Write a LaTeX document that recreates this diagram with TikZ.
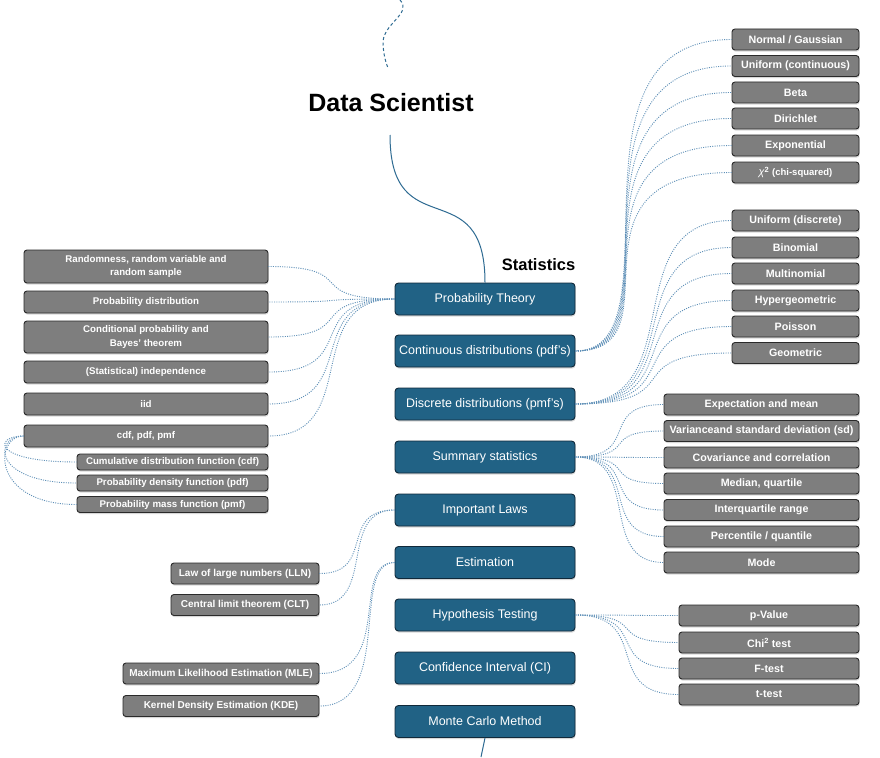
\documentclass[tikz,border=0pt]{standalone}
\usepackage{fontspec}
\setmainfont{Liberation Sans}
\usetikzlibrary{shadows}
\definecolor{bluef}{HTML}{216285}
\definecolor{bluebd}{HTML}{10293A}
\definecolor{grayf}{HTML}{7E7E7E}
\definecolor{graybd}{HTML}{2A2A2A}
\definecolor{connc}{HTML}{5F90B8}
\definecolor{linec}{HTML}{2E6B92}
\newcommand\lk[4]{\draw[conn] (#1) .. controls +(#3,0) and +(#4,0) .. (#2);}
\begin{document}
\begin{tikzpicture}[x=1pt,y=-1pt,
  shd/.style={drop shadow={shadow xshift=0.6pt,shadow yshift=-1.6pt,opacity=0.3}},
  bbox/.style={draw=bluebd,fill=bluef,rounded corners=3.5pt,line width=0.9pt,minimum width=180pt,minimum height=32pt,inner sep=0pt,text=white,font=\fontsize{12.5}{15}\selectfont,shd},
  gbox/.style={draw=graybd,fill=grayf,rounded corners=3pt,line width=0.9pt,inner sep=0pt,text=white,align=center,shd},
  lbox/.style={gbox,minimum width=244pt,font=\fontsize{9.7}{13.5}\selectfont\bfseries},
  sbox/.style={gbox,minimum width=191pt,minimum height=16pt,font=\fontsize{9.7}{12}\selectfont\bfseries},
  rbox/.style={gbox,minimum height=21pt,font=\fontsize{10.7}{12}\selectfont\bfseries},
  conn/.style={draw=connc,line width=0.9pt,dash pattern=on 1pt off 1.3pt},
  mainline/.style={draw=linec,line width=1pt}]
\fill[white] (0,0) rectangle (880,757);
\useasboundingbox (0,0) rectangle (880,757);

% titles
\node[font=\fontsize{25}{30}\selectfont\bfseries] (title) at (391,103) {Data Scientist};
\node[font=\fontsize{16.5}{20}\selectfont\bfseries] (stat) at (538.5,265) {Statistics};

% blue main nodes
\node[bbox] (pt)   at (485,299)   {Probability Theory};
\node[bbox] (cont) at (485,351)   {Continuous distributions (pdf's)};
\node[bbox] (disc) at (485,404)   {Discrete distributions (pmf's)};
\node[bbox] (summ) at (485,457)   {Summary statistics};
\node[bbox] (laws) at (485,510)   {Important Laws};
\node[bbox] (est)  at (485,562.5) {Estimation};
\node[bbox] (hyp)  at (485,615)   {Hypothesis Testing};
\node[bbox] (ci)   at (485,668)   {Confidence Interval (CI)};
\node[bbox] (mc)   at (485,721.5) {Monte Carlo Method};

% left: probability theory
\node[lbox,minimum height=33pt] (l1) at (146,266.5) {Randomness, random variable and\\random sample};
\node[lbox,minimum height=22pt] (l2) at (146,302) {Probability distribution};
\node[lbox,minimum height=32pt] (l3) at (146,337) {Conditional probability and\\Bayes' theorem};
\node[lbox,minimum height=22pt] (l4) at (146,372) {(Statistical) independence};
\node[lbox,minimum height=22pt] (l5) at (146,404) {iid};
\node[lbox,minimum height=22pt] (l6) at (146,436) {cdf, pdf, pmf};
\node[sbox] (s1) at (172.5,462)   {Cumulative distribution function (cdf)};
\node[sbox] (s2) at (172.5,483)   {Probability density function (pdf)};
\node[sbox] (s3) at (172.5,504.5) {Probability mass function (pmf)};

% right: continuous
\node[rbox,minimum width=127pt] (c1) at (795.5,39.5)  {Normal / Gaussian};
\node[rbox,minimum width=127pt] (c2) at (795.5,66)    {Uniform (continuous)};
\node[rbox,minimum width=127pt] (c3) at (795.5,92.5)  {Beta};
\node[rbox,minimum width=127pt] (c4) at (795.5,118.5) {Dirichlet};
\node[rbox,minimum width=127pt] (c5) at (795.5,145.5) {Exponential};
\node[rbox,minimum width=127pt] (c6) at (795.5,172.5) {{\mdseries\itshape χ}\textsuperscript{2} {\fontsize{9.5}{12}\selectfont(chi-squared)}};

% right: discrete
\node[rbox,minimum width=127pt] (d1) at (795.5,220.5) {Uniform (discrete)};
\node[rbox,minimum width=127pt] (d2) at (795.5,247.5) {Binomial};
\node[rbox,minimum width=127pt] (d3) at (795.5,273.5) {Multinomial};
\node[rbox,minimum width=127pt] (d4) at (795.5,300.5) {Hypergeometric};
\node[rbox,minimum width=127pt] (d5) at (795.5,326.5) {Poisson};
\node[rbox,minimum width=127pt] (d6) at (795.5,353)   {Geometric};

% right: summary statistics
\node[rbox,minimum width=195pt] (m1) at (761.5,404.5) {Expectation and mean};
\node[rbox,minimum width=195pt] (m2) at (761.5,431)   {Varianceand standard deviation (sd)};
\node[rbox,minimum width=195pt] (m3) at (761.5,457.5) {Covariance and correlation};
\node[rbox,minimum width=195pt] (m4) at (761.5,483.5) {Median, quartile};
\node[rbox,minimum width=195pt] (m5) at (761.5,510)   {Interquartile range};
\node[rbox,minimum width=195pt] (m6) at (761.5,536.5) {Percentile / quantile};
\node[rbox,minimum width=195pt] (m7) at (761.5,562.5) {Mode};

% right: hypothesis testing
\node[rbox,minimum width=180pt] (h1) at (769,615.5) {p-Value};
\node[rbox,minimum width=180pt] (h2) at (769,642.5) {Chi\textsuperscript{2} test};
\node[rbox,minimum width=180pt] (h3) at (769,668.5) {F-test};
\node[rbox,minimum width=180pt] (h4) at (769,694.5) {t-test};

% left: laws and estimation
\node[rbox,minimum width=148pt,font=\fontsize{10}{12}\selectfont\bfseries] (w1) at (245,573.5) {Law of large numbers (LLN)};
\node[rbox,minimum width=148pt,font=\fontsize{10}{12}\selectfont\bfseries] (w2) at (245,605)   {Central limit theorem (CLT)};
\node[rbox,minimum width=196pt,font=\fontsize{10}{12}\selectfont\bfseries] (e1) at (221,673.5) {Maximum Likelihood Estimation (MLE)};
\node[rbox,minimum width=196pt,font=\fontsize{10}{12}\selectfont\bfseries] (e2) at (221,706)   {Kernel Density Estimation (KDE)};

% main lines
\coordinate (topend) at (400,0);
\coordinate (tail) at (388,68);
\coordinate (tbot) at (390,135);
\coordinate (mcend) at (481,757);
\draw[draw=linec,line width=1pt,dash pattern=on 3pt off 2.5pt] (topend) .. controls (413,14) and (381,24) .. (383,45) .. controls (384,57) and (386,63) .. (tail);
\draw[mainline] (tbot) .. controls +(0,113) and +(0,-113) .. (pt.north);
\draw[mainline] (mc.south) -- (mcend);

% connectors: probability theory
\foreach \n in {l1,l2,l3,l4,l5,l6} {\lk{pt.west}{\n.east}{-95}{95}}
\foreach \n in {s1,s2,s3} {\lk{l6.west}{\n.west}{-30}{-85}}
% continuous
\foreach \n in {c1,c2,c3,c4,c5,c6} {\lk{cont.east}{\n.west}{108}{-180}}
% discrete
\foreach \n in {d1,d2,d3,d4,d5,d6} {\lk{disc.east}{\n.west}{118}{-118}}
% summary
\foreach \n in {m1,m2,m3,m4,m5,m6,m7} {\lk{summ.east}{\n.west}{67}{-67}}
% hypothesis
\foreach \n in {h1,h2,h3,h4} {\lk{hyp.east}{\n.west}{78}{-78}}
% laws
\foreach \n in {w1,w2} {\lk{laws.west}{\n.east}{-57}{57}}
% estimation
\foreach \n in {e1,e2} {\lk{est.west}{\n.east}{-45}{75}}
\end{tikzpicture}
\end{document}
